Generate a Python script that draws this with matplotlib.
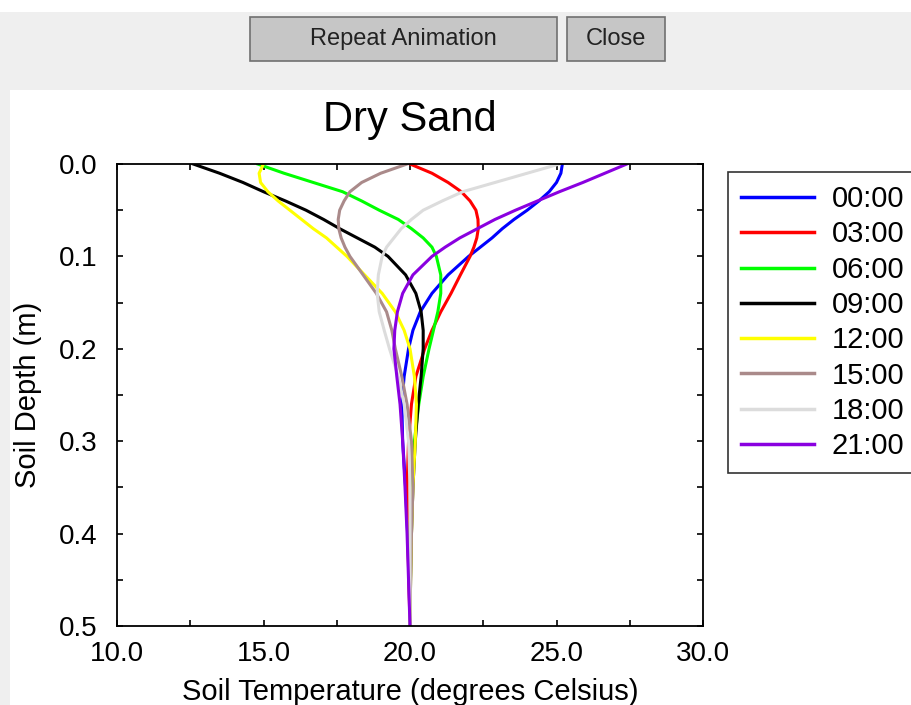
import matplotlib.pyplot as plt
from matplotlib.patches import Rectangle
from matplotlib.ticker import MultipleLocator, FormatStrFormatter

plt.rcParams['font.family'] = ['Liberation Sans', 'DejaVu Sans']

# depth below surface (m)
depth = [0.00, 0.01, 0.02, 0.03, 0.04, 0.05, 0.06, 0.07, 0.08, 0.09, 0.10,
         0.12, 0.14, 0.16, 0.18, 0.20, 0.23, 0.26, 0.30, 0.35, 0.40, 0.45, 0.50]

# soil temperature profiles (deg C), one per time of day
t_0000 = [25.2, 25.15, 25.0, 24.75, 24.4, 24.0, 23.55, 23.15, 22.8, 22.4, 22.0,
          21.3, 20.75, 20.35, 20.1, 19.95, 19.8, 19.72, 19.75, 19.85, 19.92, 19.97, 20.0]
t_0300 = [20.0, 20.75, 21.3, 21.75, 22.05, 22.25, 22.32, 22.33, 22.28, 22.18, 22.05,
          21.72, 21.4, 21.05, 20.75, 20.5, 20.2, 20.05, 19.95, 19.9, 19.92, 19.96, 20.0]
t_0600 = [14.8, 15.7, 16.7, 17.7, 18.35, 18.95, 19.6, 20.05, 20.45, 20.75, 20.9,
          21.05, 21.05, 20.95, 20.8, 20.65, 20.45, 20.3, 20.15, 20.05, 20.0, 20.0, 20.0]
t_0900 = [12.6, 13.5, 14.3, 15.0, 15.75, 16.45, 17.05, 17.6, 18.2, 18.8, 19.25,
          19.85, 20.2, 20.38, 20.45, 20.45, 20.38, 20.28, 20.18, 20.1, 20.05, 20.02, 20.0]
t_1200 = [15.0, 14.85, 14.9, 15.15, 15.5, 15.9, 16.3, 16.7, 17.15, 17.5, 17.85,
          18.45, 19.05, 19.5, 19.8, 20.0, 20.15, 20.22, 20.18, 20.1, 20.05, 20.02, 20.0]
t_1500 = [19.9, 19.0, 18.35, 17.95, 17.75, 17.6, 17.55, 17.57, 17.65, 17.78, 17.95,
          18.4, 18.85, 19.2, 19.38, 19.5, 19.72, 19.9, 20.05, 20.1, 20.05, 20.02, 20.0]
t_1800 = [25.1, 24.0, 22.9, 21.8, 21.1, 20.45, 20.05, 19.7, 19.45, 19.2, 19.05,
          18.92, 18.88, 18.95, 19.12, 19.3, 19.6, 19.8, 19.95, 20.0, 20.0, 20.0, 20.0]
t_2100 = [27.4, 26.65, 25.9, 25.1, 24.35, 23.6, 22.9, 22.3, 21.7, 21.2, 20.75,
          20.1, 19.75, 19.57, 19.48, 19.45, 19.55, 19.66, 19.75, 19.83, 19.9, 19.95, 20.0]

labels = ['00:00', '03:00', '06:00', '09:00', '12:00', '15:00', '18:00', '21:00']
profiles = [t_0000, t_0300, t_0600, t_0900, t_1200, t_1500, t_1800, t_2100]
colors = ['#0000ff', '#ff0000', '#00ff00', '#000000',
          '#ffff00', '#aa8a8a', '#dcdcdc', '#8a00e0']

fig = plt.figure(figsize=(9.12, 7.05), dpi=100)
fig.patch.set_facecolor('white')

# window chrome: grey button bar and left strip
fig.add_artist(Rectangle((5 / 912, 1 - 90 / 705), 1, 78 / 705,
                         transform=fig.transFigure, facecolor='#efefef',
                         edgecolor='none', zorder=0))
fig.add_artist(Rectangle((0, 0), 10 / 912, 1 - 12 / 705,
                         transform=fig.transFigure, facecolor='#efefef',
                         edgecolor='none', zorder=0))

# buttons
for x0, x1, text in [(250, 557, 'Repeat Animation'), (567, 665, 'Close')]:
    fig.add_artist(Rectangle((x0 / 912, 1 - 61 / 705), (x1 - x0) / 912, 44 / 705,
                             transform=fig.transFigure, facecolor='#c6c6c6',
                             edgecolor='#707070', linewidth=1.2, zorder=1))
    fig.text((x0 + x1) / 2 / 912, 1 - 39 / 705, text, ha='center', va='center',
             fontsize=17, color='#222222')

ax = fig.add_axes([117 / 912, 1 - 626 / 705, 586 / 912, 462 / 705])

for temps, lab, col in zip(profiles, labels, colors):
    ax.plot(temps, depth, color=col, linewidth=2.2, label=lab)

ax.set_xlim(10, 30)
ax.set_ylim(0.5, 0.0)
ax.xaxis.set_major_locator(MultipleLocator(5))
ax.xaxis.set_minor_locator(MultipleLocator(2.5))
ax.yaxis.set_major_locator(MultipleLocator(0.1))
ax.yaxis.set_minor_locator(MultipleLocator(0.05))
ax.xaxis.set_major_formatter(FormatStrFormatter('%.1f'))
ax.yaxis.set_major_formatter(FormatStrFormatter('%.1f'))
ax.tick_params(which='both', direction='in', top=True, right=True,
               length=4, width=1.2)
ax.tick_params(axis='x', which='major', labelsize=20, pad=11)
ax.tick_params(axis='y', which='major', labelsize=20, pad=14)
for sp in ax.spines.values():
    sp.set_linewidth(1.3)

ax.set_title('Dry Sand', fontsize=30, pad=24)
ax.set_xlabel('Soil Temperature (degrees Celsius)', fontsize=21, labelpad=8)
ax.set_ylabel('Soil Depth (m)', fontsize=21, labelpad=12)

leg = fig.legend(loc='upper left', bbox_to_anchor=(728 / 912, 1 - 172 / 705),
                 fontsize=21, frameon=True, fancybox=False, handlelength=2.5,
                 handletextpad=0.6, labelspacing=0.25, borderpad=0.45,
                 borderaxespad=0)
leg.get_frame().set_edgecolor('black')
leg.get_frame().set_linewidth(1.2)
for line in leg.get_lines():
    line.set_linewidth(2.5)

fig.savefig('out.png', dpi=100)
